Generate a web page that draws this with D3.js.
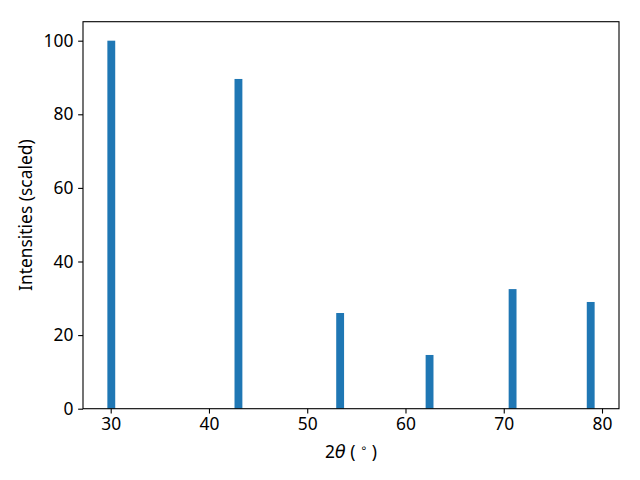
<!DOCTYPE html>
<html><head><meta charset="utf-8">
<script src="https://cdn.jsdelivr.net/npm/d3@7"></script>
<style>body{margin:0;background:#fff}svg{display:block}text{font-family:"Noto Sans",sans-serif}</style>
</head><body>
<svg id="c" width="640" height="480"></svg>
<script>
const angles = [30.06, 43.0, 53.35, 62.45, 70.9, 78.85];
const intensities = [100, 89.6, 26.0, 14.6, 32.5, 29.0];
const xTicks = [30, 40, 50, 60, 70, 80];
const yTicks = [0, 20, 40, 60, 80, 100];
const barWidth = 0.8;

const svg = d3.select("#c");
const L = 83, R = 619, T = 21.7, B = 408.7;
const dmin = d3.min(angles) - barWidth/2, dmax = d3.max(angles) + barWidth/2;
const m = (dmax - dmin) * 0.05;
const x = d3.scaleLinear().domain([dmin - m, dmax + m]).range([L, R]);
const y = d3.scaleLinear().domain([0, 105.16]).range([B, T]);

svg.append("g").selectAll("rect").data(angles).join("rect")
  .attr("x", d => x(d - barWidth/2))
  .attr("width", d => x(d + barWidth/2) - x(d - barWidth/2))
  .attr("y", (d,i) => y(intensities[i]))
  .attr("height", (d,i) => y(0) - y(intensities[i]))
  .attr("fill", "#1f77b4");

const fs = "17.4px";
const xa = svg.append("g").attr("transform", `translate(0,${B})`)
  .call(d3.axisBottom(x).tickValues(xTicks).tickSize(4.86).tickPadding(4.5).tickFormat(d3.format("d")));
const ya = svg.append("g").attr("transform", `translate(${L},0)`)
  .call(d3.axisLeft(y).tickValues(yTicks).tickSize(4.86).tickPadding(4.8).tickFormat(d3.format("d")));
[xa, ya].forEach(a => {
  a.select(".domain").remove();
  a.selectAll(".tick line").attr("stroke", "#000").attr("stroke-width", 1.1);
  a.selectAll(".tick text").attr("fill", "#000").style("font-size", fs).style("font-family", "Noto Sans");
});

svg.append("rect").attr("x", L).attr("y", T).attr("width", R - L).attr("height", B - T)
  .attr("fill", "none").attr("stroke", "#000").attr("stroke-width", 1.1);

const xl = svg.append("text").attr("x", (L + R)/2).attr("y", 458).attr("text-anchor", "middle")
  .style("font-size", fs).attr("fill", "#000");
xl.append("tspan").text("2");
xl.append("tspan").style("font-style", "italic").style("font-family", "DejaVu Sans").text("θ");
xl.append("tspan").text(" ( ");
xl.append("tspan").attr("dy", -6).style("font-size", "11.5px").style("font-family", "DejaVu Sans").text("∘");
xl.append("tspan").attr("dy", 6).text(" )");

svg.append("text").attr("transform", `translate(32,${(T + B)/2}) rotate(-90)`)
  .attr("text-anchor", "middle").style("font-size", fs).attr("fill", "#000")
  .text("Intensities (scaled)");
</script>
</body></html>
